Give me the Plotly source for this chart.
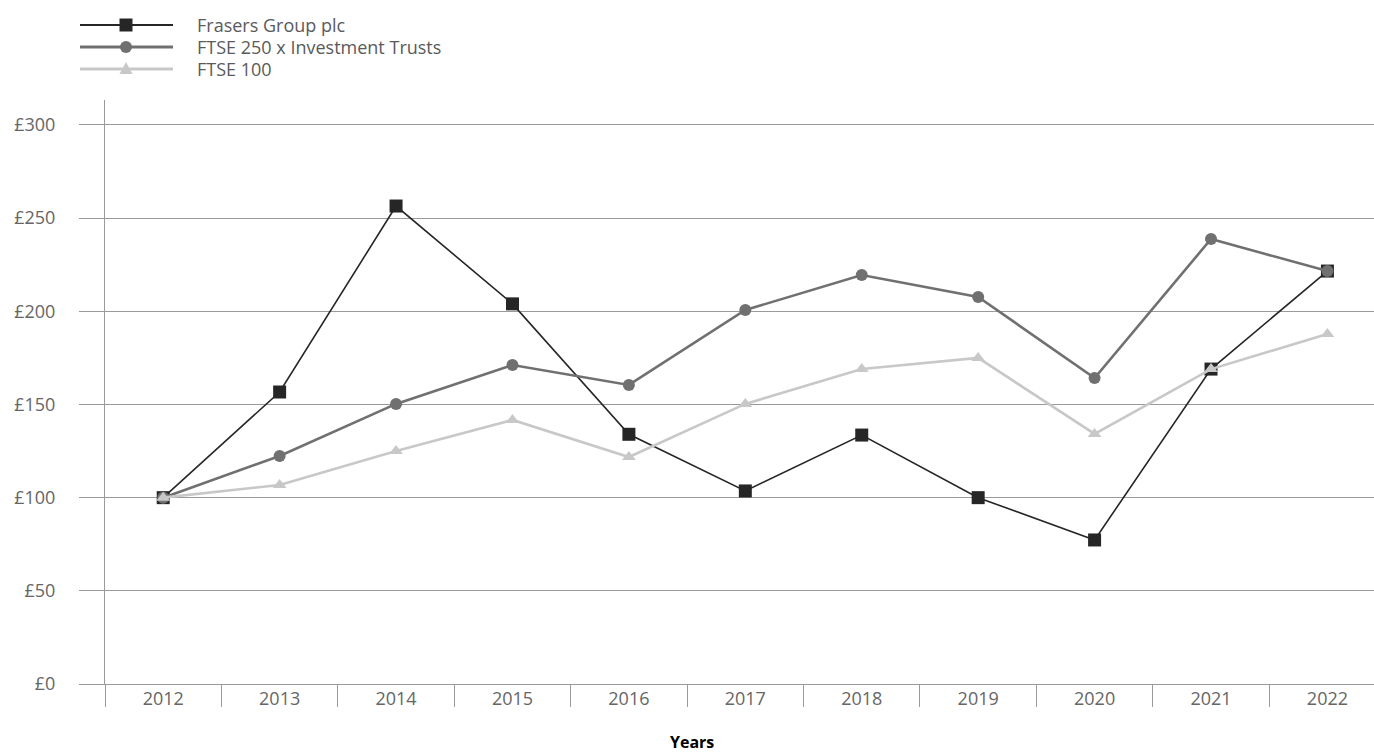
import plotly.graph_objects as go

years = ["2012", "2013", "2014", "2015", "2016", "2017", "2018", "2019", "2020", "2021", "2022"]
frasers = [100, 156.7, 256.5, 204, 134, 103.6, 133.6, 100, 77.3, 169, 221.6]
ftse250 = [100, 122.4, 150.3, 171.2, 160.5, 200.7, 219.5, 207.7, 164.2, 238.8, 221.6]
ftse100 = [100, 106.8, 125, 141.7, 121.8, 150.3, 169, 175, 134.2, 169, 187.8]
series_names = ["Frasers Group plc", "FTSE 250 x Investment Trusts", "FTSE 100"]
y_ticks = [0, 50, 100, 150, 200, 250, 300]
y_tick_text = ["£0", "£50", "£100", "£150", "£200", "£250", "£300"]

W, H = 1374, 753
ML, MR, MT, MB = 105, 0, 100, 69
PW, PH = W - ML - MR, H - MT - MB

def px_x(x):
    return (x - ML) / PW

def px_y(y):
    return (H - MB - y) / PH

FONT = "Open Sans"
GRID = "#9a9a9a"
colors = ["#262626", "#707070", "#c8c8c8"]
widths = [1.6, 2.6, 2.6]
symbols = ["square", "circle", "triangle-up"]
sizes = [13, 12, 12]

fig = go.Figure()
for name, vals, c, w, s, sz in zip(series_names, [frasers, ftse250, ftse100], colors, widths, symbols, sizes):
    fig.add_trace(go.Scatter(
        x=years, y=vals, name=name, mode="lines+markers",
        line=dict(color=c, width=w),
        marker=dict(symbol=s, size=sz, color=c, line=dict(width=0)),
        showlegend=False, hoverinfo="x+y+name",
    ))

# custom legend (line + marker + label), in paper coords from pixel positions
shapes = []
annotations = []
leg_rows = [25, 47, 69]
x0p, x1p, xm = 80, 173, 126
for i, (name, c, w) in enumerate(zip(series_names, colors, widths)):
    yy = leg_rows[i]
    shapes.append(dict(type="line", xref="paper", yref="paper",
                       x0=px_x(x0p), x1=px_x(x1p), y0=px_y(yy), y1=px_y(yy),
                       line=dict(color=c, width=w + 0.6)))
    if i == 0:
        shapes.append(dict(type="rect", xref="paper", yref="paper",
                           x0=px_x(xm - 6.5), x1=px_x(xm + 6.5), y0=px_y(yy - 6.5), y1=px_y(yy + 6.5),
                           fillcolor=c, line=dict(width=0)))
    elif i == 1:
        shapes.append(dict(type="circle", xref="paper", yref="paper",
                           x0=px_x(xm - 6), x1=px_x(xm + 6), y0=px_y(yy - 6), y1=px_y(yy + 6),
                           fillcolor=c, line=dict(width=0)))
    else:
        path = "M {} {} L {} {} L {} {} Z".format(
            px_x(xm - 6.5), px_y(yy + 5), px_x(xm + 6.5), px_y(yy + 5), px_x(xm), px_y(yy - 7))
        shapes.append(dict(type="path", xref="paper", yref="paper", path=path,
                           fillcolor=c, line=dict(width=0)))
    annotations.append(dict(text=name, xref="paper", yref="paper",
                            x=px_x(195), y=px_y(yy), xanchor="left", yanchor="middle",
                            showarrow=False, font=dict(family=FONT, size=18, color="#5a5a5a")))

annotations.append(dict(text="<b>Years</b>", xref="paper", yref="paper",
                        x=px_x(692), y=px_y(742), xanchor="center", yanchor="middle",
                        showarrow=False, font=dict(family=FONT, size=16, color="#000000")))

fig.update_layout(
    width=W, height=H,
    margin=dict(l=ML, r=MR, t=MT, b=MB, pad=0),
    paper_bgcolor="white", plot_bgcolor="white",
    font=dict(family=FONT, size=18, color="#666666"),
    shapes=shapes, annotations=annotations,
    showlegend=False,
    xaxis=dict(
        type="category", categoryorder="array", categoryarray=years,
        range=[-0.5, 10.4], tickson="boundaries", ticks="outside", ticklen=22,
        tickcolor=GRID, tickwidth=1, showgrid=False,
        showline=True, linecolor=GRID, linewidth=1, zeroline=False,
        ticklabelstandoff=-2, tickfont=dict(family=FONT, size=18, color="#666666"),
        fixedrange=True,
    ),
    yaxis=dict(
        range=[0, 313.4], tickmode="array", tickvals=y_ticks, ticktext=y_tick_text,
        ticks="outside", ticklen=25, tickcolor=GRID, tickwidth=1,
        showgrid=True, gridcolor=GRID, gridwidth=1,
        showline=True, linecolor=GRID, linewidth=1, zeroline=False,
        ticklabelstandoff=20, tickfont=dict(family=FONT, size=18, color="#666666"),
        fixedrange=True,
    ),
)

fig.write_html("out.html")
